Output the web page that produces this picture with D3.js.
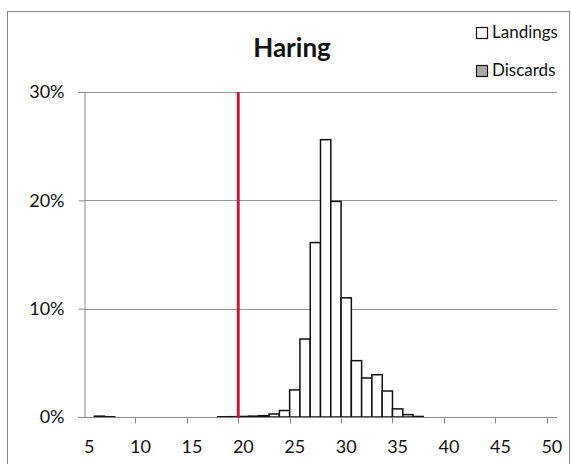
<html>
<head>
  <style>
    body{margin:0;background:#fff}
    .chart text{font-family:Lato,"Open Sans",sans-serif;fill:#111}
    .chart .grid line{stroke:#999;stroke-width:1px}
    .chart .axis path,
    .chart .axis line{stroke:#888;stroke-width:1px}
    .chart .bar{fill:#fff;stroke:#111;stroke-width:1.5px}
    .chart .disc{fill:#aaa;stroke:#111;stroke-width:1px}
  </style>
</head>

<body>
<div id="haring"></div>
<script src="https://d3js.org/d3.v7.min.js"></script>

<script>
// length classes (cm)
var sizes = d3.range(5, 51);

// percent of catch per length class
var landings = [
  0, 0.08, 0.02, 0, 0, 0, 0, 0, 0, 0,          // 5-14
  0, 0, 0, 0.02, 0.03, 0.05, 0.08, 0.12, 0.28, 0.6,  // 15-24
  2.5, 7.2, 16.1, 25.6, 19.9, 11.0, 5.2, 3.6, 3.9, 2.4, // 25-34
  0.75, 0.22, 0.05, 0, 0, 0, 0, 0, 0, 0,       // 35-44
  0, 0, 0, 0, 0, 0                             // 45-50
];
var discards = sizes.map(function () { return 0; });

var yTicks = [0, 10, 20, 30];
var xTicks = [5, 10, 15, 20, 25, 30, 35, 40, 45, 50];
var minSize = 20;   // minimum landing size
var legendItems = ['Landings', 'Discards'];

(function () {
  var
    width  = 571,
    height = 464,
    left   = 84,
    right  = 557,
    top    = 92,
    bottom = 417;

  var svg = d3.select('#haring').append('svg')
    .attr('class', 'chart')
    .attr('width', width)
    .attr('height', height);

  // outer frame
  svg.append('rect')
    .attr('x', 7.5).attr('y', 11.5)
    .attr('width', 562).attr('height', 460)
    .attr('fill', 'none')
    .attr('stroke', '#888');

  var x = d3.scaleBand()
    .domain(sizes)
    .range([left, right]);

  var y = d3.scaleLinear()
    .domain([0, 30])
    .range([bottom, top]);

  // horizontal gridlines
  svg.append('g')
    .attr('class', 'grid')
    .selectAll('line')
    .data(yTicks.slice(1))
    .enter().append('line')
    .attr('x1', left).attr('x2', right)
    .attr('y1', function (d) { return Math.round(y(d)) + 0.5; })
    .attr('y2', function (d) { return Math.round(y(d)) + 0.5; });

  // bars
  svg.append('g')
    .selectAll('rect')
    .data(landings)
    .enter().append('rect')
    .attr('class', 'bar')
    .attr('x', function (d, i) { return x(sizes[i]); })
    .attr('width', x.bandwidth())
    .attr('y', function (d) { return y(d); })
    .attr('height', function (d) { return bottom - y(d); })
    .style('display', function (d) { return d > 0 ? null : 'none'; });

  svg.append('g')
    .selectAll('rect')
    .data(discards)
    .enter().append('rect')
    .attr('class', 'disc')
    .attr('x', function (d, i) { return x(sizes[i]); })
    .attr('width', x.bandwidth())
    .attr('y', function (d) { return y(d); })
    .attr('height', function (d) { return bottom - y(d); })
    .style('display', function (d) { return d > 0 ? null : 'none'; });

  // y axis
  var yAxis = svg.append('g')
    .attr('class', 'axis')
    .attr('transform', 'translate(' + (left + 0.5) + ',0)')
    .call(d3.axisLeft(y)
      .tickValues(yTicks)
      .tickSize(6)
      .tickPadding(14)
      .tickFormat(function (d) { return d + '%'; }));
  yAxis.selectAll('text').style('font-size', '18px');

  // x axis: ticks at band starts, labels on band centres
  var xa = svg.append('g')
    .attr('class', 'axis')
    .attr('transform', 'translate(0,' + (bottom + 0.5) + ')');
  xa.append('line')
    .attr('x1', left - 6).attr('x2', right);
  xa.selectAll('line.tk')
    .data(xTicks.slice(1))
    .enter().append('line')
    .attr('class', 'tk')
    .attr('x1', function (d) { return Math.round(x(d)) + 0.5; })
    .attr('x2', function (d) { return Math.round(x(d)) + 0.5; })
    .attr('y1', 0).attr('y2', 6);
  xa.selectAll('text')
    .data(xTicks)
    .enter().append('text')
    .attr('x', function (d) { return x(d) + x.bandwidth() / 2; })
    .attr('y', 35)
    .attr('text-anchor', 'middle')
    .style('font-size', '18px')
    .text(function (d) { return d; });

  // minimum size line
  svg.append('line')
    .attr('x1', x(minSize)).attr('x2', x(minSize))
    .attr('y1', top).attr('y2', bottom + 1)
    .attr('stroke', '#cc1640')
    .attr('stroke-width', 3);

  // title
  svg.append('text')
    .attr('x', 292).attr('y', 57)
    .attr('text-anchor', 'middle')
    .style('font-size', '26px')
    .style('font-weight', 'bold')
    .text('Haring');

  // legend
  var leg = svg.append('g')
    .selectAll('g')
    .data(legendItems)
    .enter().append('g')
    .attr('transform', function (d, i) { return 'translate(476,' + (27 + i * 38) + ')'; });
  leg.append('rect')
    .attr('x', 0.5).attr('y', 0.5)
    .attr('width', 11).attr('height', 11)
    .attr('fill', function (d, i) { return i ? '#aaa' : '#fff'; })
    .attr('stroke', '#111')
    .attr('stroke-width', 1.2);
  leg.append('text')
    .attr('x', 16).attr('y', 11)
    .style('font-size', '17px')
    .text(function (d) { return d; });
})();
</script>

</body>
</html>
